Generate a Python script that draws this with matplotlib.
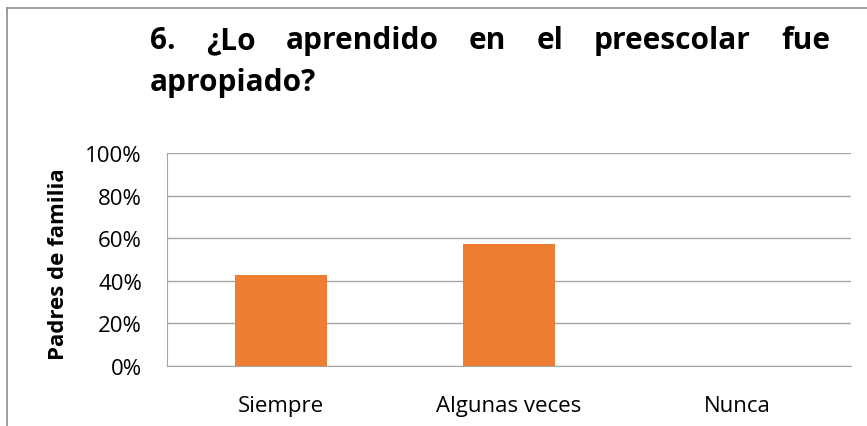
import matplotlib
matplotlib.use("Agg")
import matplotlib.pyplot as plt
from matplotlib.ticker import PercentFormatter

categories = ["Siempre", "Algunas veces", "Nunca"]
values = [3 / 7, 4 / 7, 0.0]
y_ticks = [0, 0.2, 0.4, 0.6, 0.8, 1.0]
title_line1 = ["6.", "¿Lo", "aprendido", "en", "el", "preescolar", "fue"]
title_line2 = "apropiado?"

plt.rcParams['font.family'] = ['Open Sans', 'DejaVu Sans']

fig = plt.figure(figsize=(8.67, 4.27), dpi=100)
W, H = 867, 427
ax = fig.add_axes([167 / W, 1 - 367 / H, (851 - 167) / W, (367 - 154) / H])

x = range(len(categories))
ax.bar(x, values, width=0.40, color="#ED7D31", zorder=3)
ax.set_xlim(-0.5, len(categories) - 0.5)
ax.set_ylim(0, 1)
ax.set_yticks(y_ticks)
ax.yaxis.set_major_formatter(PercentFormatter(1.0, decimals=0))
ax.set_xticks(list(x))
ax.set_xticklabels(categories)
ax.tick_params(axis="both", length=0, labelsize=16, colors="#000000")
ax.tick_params(axis="x", pad=21)
ax.tick_params(axis="y", pad=18)
ax.grid(axis="y", color="#a6a6a6", linewidth=1, zorder=0)
for s in ["top", "right"]:
    ax.spines[s].set_visible(False)
for s in ["left", "bottom"]:
    ax.spines[s].set_color("#a6a6a6")
fig.text(59 / W, 1 - 264 / H, "Padres de familia", fontsize=16, fontweight="bold",
         rotation=90, ha="center", va="center")

# outer chart border (only top and left are visible in the crop)
fig.add_artist(plt.Line2D([7 / W, 7 / W], [0, 1 - 9 / H], color="#8c8c8c", lw=1.2))
fig.add_artist(plt.Line2D([7 / W, 1], [1 - 9 / H, 1 - 9 / H], color="#8c8c8c", lw=1.2))

# justified title, first line
tsize = 21.5
left, right = 150, 830
renderer = fig.canvas.get_renderer()
texts = [fig.text(0, 1 - 49 / H, w, fontsize=tsize, fontweight="bold") for w in title_line1]
widths = [t.get_window_extent(renderer).width for t in texts]
gap = (right - left - sum(widths)) / (len(texts) - 1)
pos = left
for t, w in zip(texts, widths):
    t.set_x(pos / W)
    pos += w + gap
fig.text(left / W, 1 - 91 / H, title_line2, fontsize=tsize, fontweight="bold")

fig.savefig("out.png", dpi=100)
